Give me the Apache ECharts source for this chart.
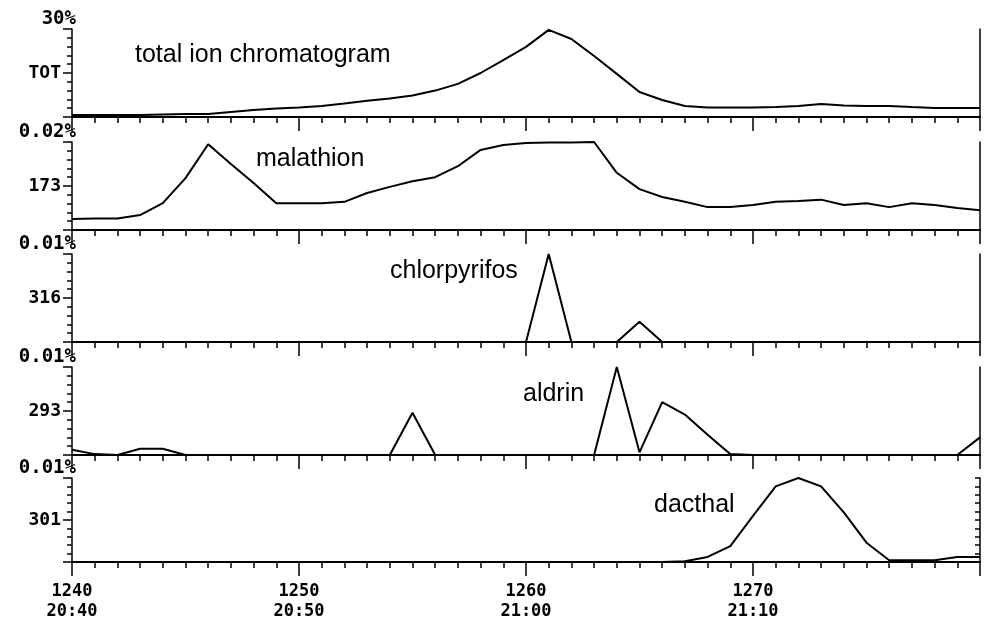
<!DOCTYPE html>
<html><head><meta charset="utf-8">
<script src="https://cdn.jsdelivr.net/npm/echarts@6/dist/echarts.min.js"></script>
<style>html,body{margin:0;padding:0;background:#fff}#c{width:984px;height:622px}</style>
</head><body><div id="c"></div>
<script>
// ---------- data ----------
const scans = [1240,1241,1242,1243,1244,1245,1246,1247,1248,1249,
               1250,1251,1252,1253,1254,1255,1256,1257,1258,1259,
               1260,1261,1262,1263,1264,1265,1266,1267,1268,1269,
               1270,1271,1272,1273,1274,1275,1276,1277,1278,1279,1280];
const timeLabels = {1240:'20:40',1250:'20:50',1260:'21:00',1270:'21:10'};
const panelNames = ['total ion chromatogram','malathion','chlorpyrifos','aldrin','dacthal'];
const massLabels = ['TOT','173','316','293','301'];
const fullScale = [30, 0.02, 0.01, 0.01, 0.01];
const fullScaleLabels = ['30%','0.02%','0.01%','0.01%','0.01%'];

const tot = [0.7,0.7,0.7,0.7,0.85,1.0,1.0,1.7,2.4,2.9,
             3.2,3.75,4.6,5.5,6.3,7.3,9.0,11.3,15.0,19.4,
             23.9,29.7,26.6,20.8,14.7,8.5,5.8,3.75,3.2,3.2,
             3.2,3.4,3.75,4.4,3.9,3.75,3.75,3.4,3.1,3.1,3.1];
const malathion = [0.0025,0.0026,0.0026,0.0034,0.0061,0.0118,0.0195,0.0150,0.0107,0.0061,
                   0.0061,0.0061,0.0064,0.0084,0.0098,0.0111,0.0120,0.0145,0.0182,0.0193,
                   0.0198,0.0199,0.0199,0.0200,0.0130,0.0093,0.0075,0.0064,0.0052,0.0052,
                   0.0057,0.0064,0.0066,0.0069,0.0057,0.0061,0.0052,0.0061,0.0057,0.0050,0.0045];
const chlorpyrifos = [0,0,0,0,0,0,0,0,0,0,
                      0,0,0,0,0,0,0,0,0,0,
                      0,0.0100,0,0,0,0.0023,0,0,0,0,
                      0,0,0,0,0,0,0,0,0,0,0];
const aldrin = [0.0006,0.0001,0,0.0007,0.0007,0,0,0,0,0,
                0,0,0,0,0,0.0048,0,0,0,0,
                0,0,0,0,0.0100,0.0003,0.0060,0.0046,0.0023,0.0001,
                0,0,0,0,0,0,0,0,0,0,0.0020];
const dacthal = [0,0,0,0,0,0,0,0,0,0,
                 0,0,0,0,0,0,0,0,0,0,
                 0,0,0,0,0,0,0,0.0001,0.0006,0.0019,
                 0.0055,0.0090,0.0100,0.0090,0.0059,0.0023,0.0002,0.0002,0.0002,0.0006,0.0006];
const seriesData = [tot, malathion, chlorpyrifos, aldrin, dacthal];

// ---------- layout ----------
const gridTops = [29,142,254,367,478];
const gridH = 88;
const titlePos = [[130,38],[251,142],[385,254],[518,377],[649,488]];
const mono = 'DejaVu Sans Mono';

const grids=[], xAxes=[], yAxes=[], series=[], titles=[];
for (let k=0;k<5;k++){
  grids.push({left:72,right:4,top:gridTops[k],height:gridH});
  xAxes.push({
    type:'value', gridIndex:k, min:1240, max:1280, interval:10,
    axisLine:{show:true,onZero:false,lineStyle:{color:'#000',width:2}},
    axisTick:{show:true,length:14,lineStyle:{color:'#000',width:1.5}},
    minorTick:{show:true,splitNumber:10,length:6,lineStyle:{color:'#000',width:1.5}},
    splitLine:{show:false}, minorSplitLine:{show:false},
    axisLabel:{show:k===4, margin:20, color:'#000', fontFamily:mono, fontWeight:'bold', fontSize:17, lineHeight:20,
      formatter:v=> timeLabels[v] ? v+'\n'+timeLabels[v] : ''}
  });
  yAxes.push({
    type:'value', gridIndex:k, position:'left', min:0, max:fullScale[k], interval:fullScale[k]/2,
    name:fullScaleLabels[k], nameLocation:'end', nameGap:10,
    nameTextStyle:{align:'right',verticalAlign:'middle',color:'#000',fontFamily:mono,fontWeight:'bold',fontSize:19,padding:[0,-4,0,0]},
    axisLine:{show:true,lineStyle:{color:'#000',width:1.5}},
    axisTick:{show:true,length:9,lineStyle:{color:'#000',width:1.5}},
    minorTick:{show:true,splitNumber:5,length:5,lineStyle:{color:'#000',width:1.5}},
    splitLine:{show:false}, minorSplitLine:{show:false},
    axisLabel:{margin:11,color:'#000',fontFamily:mono,fontWeight:'bold',fontSize:18,
      formatter:(v,i)=> i===1 ? massLabels[k] : ''}
  });
  yAxes.push({
    type:'value', gridIndex:k, position:'right', min:0, max:fullScale[k], interval:fullScale[k]/10,
    axisLine:{show:true,lineStyle:{color:'#000',width:1.5}},
    axisTick:{show:k===4,inside:true,length:5,lineStyle:{color:'#000',width:1.5}},
    splitLine:{show:false}, axisLabel:{show:false}
  });
  series.push({
    type:'line', xAxisIndex:k, yAxisIndex:2*k, symbol:'none', smooth:false,
    lineStyle:{color:'#000',width:2},
    data: scans.map((s,i)=>[s, seriesData[k][i]])
  });
  titles.push({text:panelNames[k], left:titlePos[k][0], top:titlePos[k][1],
    textStyle:{color:'#000',fontFamily:'Liberation Sans',fontWeight:'normal',fontSize:25}});
}

const chart = echarts.init(document.getElementById('c'));
chart.setOption({
  animation:false, backgroundColor:'#fff',
  title:titles, grid:grids, xAxis:xAxes, yAxis:yAxes, series:series
});
</script></body></html>
